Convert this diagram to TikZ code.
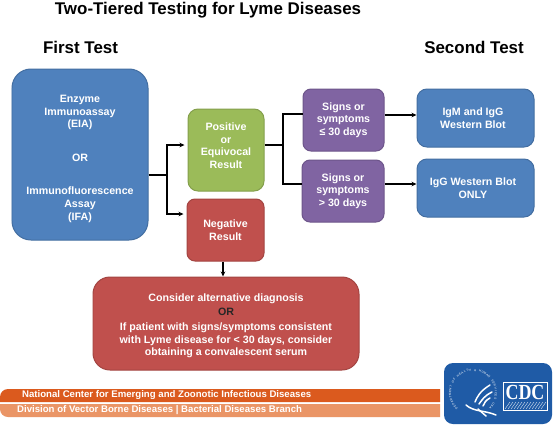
\documentclass[tikz,border=0pt]{standalone}
\usepackage{xcolor}
\usepackage{fontspec}
\setmainfont{Liberation Sans}
\newfontfamily\sealfont{Liberation Serif}
\usetikzlibrary{arrows.meta, positioning, calc}

\definecolor{cdcblue}{HTML}{4F81BD}
\definecolor{cdcgreen}{HTML}{9BBB59}
\definecolor{cdcred}{HTML}{C0504D}
\definecolor{cdcpurple}{HTML}{8064A2}
\definecolor{bandark}{HTML}{DB5A1E}
\definecolor{banlight}{HTML}{EA9566}
\definecolor{logoblue}{HTML}{1F5BA6}

\begin{document}
\begin{tikzpicture}[
  x=1bp, y=-1bp,
  box/.style={rectangle, draw=#1!85!black, fill=#1, line width=1pt, text=white, align=center, font=\fontsize{10.7}{12.6}\selectfont\bfseries, inner sep=0pt},
  heading/.style={font=\fontsize{17}{18}\selectfont\bfseries, text=black},
  banner/.style={font=\fontsize{9.65}{10}\selectfont\bfseries, text=white, anchor=west, inner sep=0pt},
  link/.style={draw=black, line width=1.2pt},
  stripe/.style={draw=white, line width=1.5pt, line cap=round},
  >={Stealth[length=5pt,width=4.5pt]}
]
  \useasboundingbox (0,0) rectangle (553,425);
  \fill[white] (0,0) rectangle (553,425);

  \node[heading] (title) at (208,10) {Two-Tiered Testing for Lyme Diseases};
  \node[heading] (first) at (80.5,47) {First Test};
  \node[heading] (second) at (474,47) {Second Test};

  % boxes, px coordinates of the centres
  \node[box=cdcblue, minimum width=136bp, minimum height=171bp, rounded corners=19pt] (assay) at (80,154.5) {\rule{0pt}{16bp}Enzyme\\Immunoassay\\(EIA)\\[21bp]OR\\[21bp]Immunofluorescence\\Assay\\(IFA)};
  \node[box=cdcgreen, minimum width=76bp, minimum height=82bp, rounded corners=10pt] (positive) at (226,150) {Positive\\or\\Equivocal\\Result\rule[-9bp]{0pt}{0pt}};
  \node[box=cdcred, minimum width=77bp, minimum height=62bp, rounded corners=8pt] (negative) at (225.5,230) {Negative\\Result};
  \node[box=cdcpurple, minimum width=81bp, minimum height=62bp, rounded corners=8pt] (early) at (343.5,120) {Signs or\\symptoms\\≤ 30 days};
  \node[box=cdcpurple, minimum width=82bp, minimum height=62bp, rounded corners=8pt] (late) at (343,191) {Signs or\\symptoms\\> 30 days};
  \node[box=cdcblue, minimum width=117bp, minimum height=58bp, rounded corners=10pt] (both) at (475.5,118) {\hspace*{-5bp}IgM and IgG\\\hspace*{-5bp}Western Blot};
  \node[box=cdcblue, minimum width=117bp, minimum height=58bp, rounded corners=10pt] (igg) at (475.5,188) {\hspace*{-5bp}IgG Western Blot\\\hspace*{-5bp}ONLY};
  \node[box=cdcred, minimum width=266bp, minimum height=93bp, rounded corners=17pt] (consider) at (226,323.5) {\rule{0pt}{13bp}Consider alternative diagnosis\\[1.5pt]{\color{black!85}OR}\\[2.5pt]If patient with signs/symptoms consistent\\with Lyme disease for < 30 days, consider\\obtaining a convalescent serum};

  % connectors
  \coordinate (split) at (167,175);
  \coordinate (fork) at (283,145);
  \draw[link] (assay.east |- split) -- (split);
  \draw[link, ->, shorten >=3pt] (split) |- (positive.west |- 0,145);
  \draw[link, ->, shorten >=3pt] (split) |- (negative.west |- 0,214);
  \draw[link] (positive.east |- fork) -- (fork);
  \draw[link] (fork) |- (early.west |- 0,114);
  \draw[link] (fork) |- (late.west |- 0,184);
  \draw[link, ->] (early.east |- 0,115) -- (both.west |- 0,115);
  \draw[link, ->] (late.east |- 0,184) -- (igg.west |- 0,184);
  \draw[link, ->] (negative.south -| 223,0) -- (consider.north -| 223,0);

  % footer bands
  \fill[bandark] (440,389) [rounded corners=8bp] -- (0,389) [sharp corners] -- (0,402) -- (440,402) -- cycle;
  \fill[banlight] (440,404) -- (0,404) [rounded corners=8bp] -- (0,417) [sharp corners] -- (440,417) -- cycle;
  \node[banner] (center) at (22,395) {National Center for Emerging and Zoonotic Infectious Diseases};
  \node[banner] (division) at (17,410) {Division of Vector Borne Diseases | Bacterial Diseases Branch};

  % logo
  \fill[logoblue, rounded corners=9pt] (444,363) rectangle (552,424);
  \draw[white, line width=.7pt] (503,382) rectangle (547,410);
  \node[font=\sealfont\fontsize{18}{18}\selectfont\bfseries, text=white, inner sep=0pt, yscale=1.2] (cdc) at (525,392.5) {CDC};
  \foreach \hatch in {0,3,...,36}
    \draw[white, line width=.3pt] (505+\hatch,409) -- (510+\hatch,402);
  \foreach \letter [count=\n] in {D,E,P,A,R,T,M,E,N,T,,O,F,,H,E,A,L,T,H,,\&,,H,U,M,A,N,,S,E,R,V,I,C,E,S,,U,S,A}
    \node[font=\fontsize{3}{3}\selectfont, text=white, inner sep=0pt, rotate=140-6.6*\n] at ($(473,393)+(230-6.6*\n:23bp)$) {\letter};
  \draw[stripe] (490,385) .. controls (480,391) and (477,397) .. (475,402);
  \draw[stripe] (492,392) .. controls (484,396) and (482,400) .. (479,404);
  \draw[stripe] (490,398) .. controls (486,400) and (484,403) .. (483,406);
  \draw[stripe] (466,405) .. controls (474,412) and (484,410) .. (496,415);
  \draw[stripe] (478,409) -- (486,416);
\end{tikzpicture}
\end{document}
